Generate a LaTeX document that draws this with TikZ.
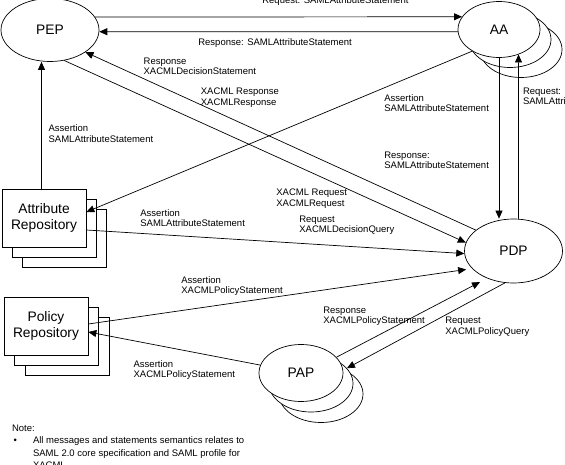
\documentclass[tikz,border=0pt]{standalone}
\usepackage{fontspec}
\setmainfont{Liberation Sans}
\usetikzlibrary{shapes.geometric,arrows.meta}

\newcommand{\lblfont}{\fontsize{9.5}{10.6}\selectfont}
\newcommand{\entfont}{\fontsize{13.8}{16}\selectfont}

\tikzset{
  entity/.style={ellipse, draw, fill=white, inner sep=0pt, font=\entfont},
  aa/.style={entity, minimum width=82pt, minimum height=56pt},
  pap/.style={entity, minimum width=84pt, minimum height=57pt},
  repo/.style={rectangle, draw, fill=white, inner sep=0pt, align=center,
    minimum width=84pt, minimum height=58pt, font=\entfont},
  msg/.style={-{Triangle[length=8pt,width=7pt]}},
  lbl/.style={anchor=north west, inner sep=0pt, align=left, font=\lblfont}
}

\begin{document}
\begin{tikzpicture}[x=1pt, y=-1pt, line width=0.7pt]
\useasboundingbox (0,0) rectangle (565,465);

% PEP et PDP
\node[entity, minimum width=98pt, minimum height=63pt] (PEP) at (50,30) {PEP};
\node[entity, minimum width=98pt, minimum height=64pt] (PDP) at (513.5,251) {PDP};

% AA (pile)
\node[aa] (AA3) at (521,49.5) {};
\node[aa] (AA2) at (510,39.5) {};
\node[aa] (AA) at (499,29.5) {AA};

% PAP (pile)
\node[pap] (PAP3) at (321,394) {};
\node[pap] (PAP2) at (311,383.5) {};
\node[pap] (PAP) at (301,373) {PAP};

% Repositories
\node[repo] (AR3) at (64,238.5) {};
\node[repo] (AR2) at (54,228.3) {};
\node[repo] (AR) at (44,218) {Attribute\\Repository};
\node[repo] (PR3) at (67,346) {};
\node[repo] (PR2) at (56.5,336) {};
\node[repo] (PR) at (46,326) {Policy\\Repository};

% PEP <-> AA
\draw[msg] (PEP.16) -- (AA.161.5);
\draw[msg] (AA.183) -- (PEP.-2);

% AA <-> PDP
\draw[msg] (AA.south) -- (AA.south |- PDP.north);
\draw[msg] (PDP.81) -- (AA.-52);

% PEP <-> PDP
\draw[msg] (PDP.151) -- (PEP.-32);
\draw[msg] (PEP.-65) -- (PDP.170);

% Attribute Repository
\coordinate (ARtop) at ([xshift=-2.5pt]AR.north);
\draw[msg] (AA.219) -- ([yshift=6pt]AR.east);
\draw[msg] (ARtop) -- (ARtop |- PEP.south);
\draw[msg] ([yshift=-12pt]AR.east) -- (PDP.183);

% Policy Repository
\draw[msg, shorten >=6pt] ([yshift=2pt]PR.east) -- (PDP.203);
\draw[msg] (PAP.169) -- ([yshift=-6pt]PR.east);

% PAP <-> PDP
\draw[msg, shorten >=8pt] (PAP.24) -- (PDP.226);
\draw[msg] (PDP.255) -- (PAP2.23);

% Labels
\node[lbl] (lReqAA) at (262,-3.8) {Request: SAMLAttributeStatement};
\node[lbl] (lRespAA) at (198,38.2) {Response: SAMLAttributeStatement};
\node[lbl] (lRespDec) at (143.3,57.2) {Response\\XACMLDecisionStatement};
\node[lbl] (lRespX) at (200.5,87.5) {XACML Response\\XACMLResponse};
\node[lbl] (lAssPEP) at (48.3,124.5) {Assertion\\SAMLAttributeStatement};
\node[lbl] (lAssAA) at (384,94) {Assertion\\SAMLAttributeStatement};
\node[lbl] (lReqPDP) at (522.7,87.5) {Request:\\SAMLAttributeStatement};
\node[lbl] (lRespPDP) at (384,151.5) {Response:\\SAMLAttributeStatement};
\node[lbl] (lReqX) at (276,189) {XACML Request\\XACMLRequest};
\node[lbl] (lReqDec) at (299,215.5) {Request\\XACMLDecisionQuery};
\node[lbl] (lAssAR) at (140,208.8) {Assertion\\SAMLAttributeStatement};
\node[lbl] (lAssPR) at (181,276) {Assertion\\XACMLPolicyStatement};
\node[lbl] (lRespPol) at (323,306.5) {Response\\XACMLPolicyStatement};
\node[lbl] (lReqPol) at (445,317) {Request\\XACMLPolicyQuery};
\node[lbl] (lAssPAP) at (133.3,360) {Assertion\\XACMLPolicyStatement};

% Note
\node[lbl, font=\fontsize{9.5}{12.5}\selectfont] (note) at (11.7,424.2)
  {Note:\\
   \hspace*{1.5pt}\makebox[19.5pt][l]{\textbullet}All messages and statements semantics relates to\\
   \hspace*{21pt}SAML 2.0 core specification and SAML profile for\\
   \hspace*{21pt}XACML.};

\end{tikzpicture}
\end{document}
